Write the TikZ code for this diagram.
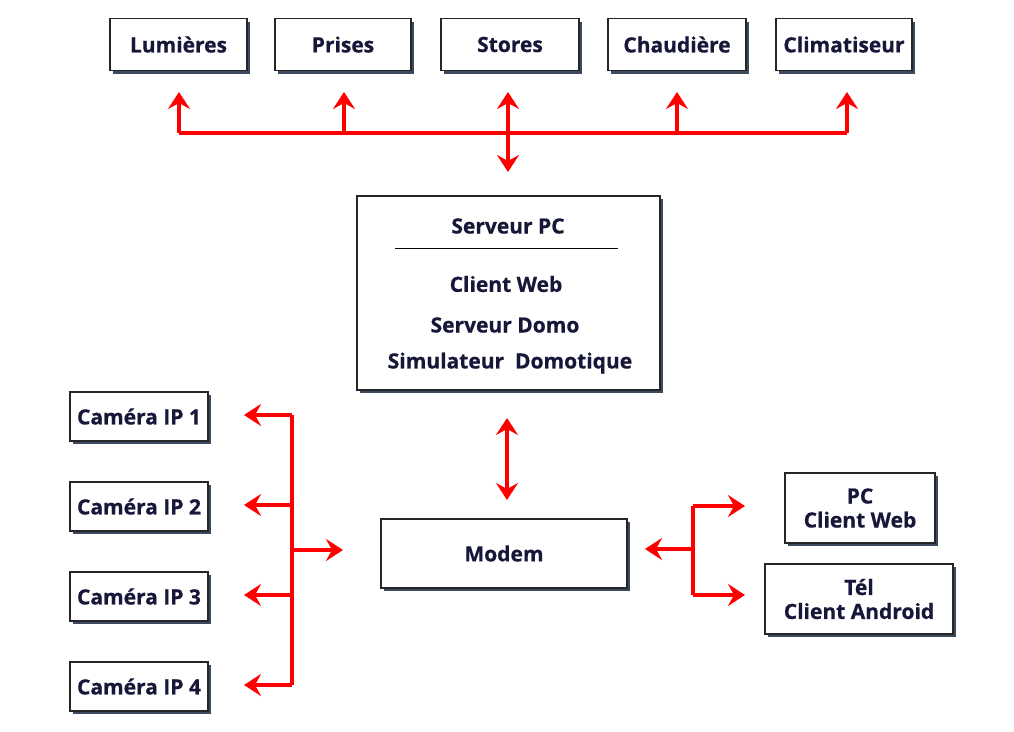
\documentclass[tikz,border=0pt]{standalone}
\usepackage{fontspec}
\setmainfont{Open Sans}
\newfontfamily\hv{Open Sans}[UprightFont=*, BoldFont=*-Bold, BoldFeatures={FakeBold=0.6}]
\usetikzlibrary{arrows.meta,shadows}
\definecolor{txt}{HTML}{17173A}
\definecolor{shd}{HTML}{3C4A60}
\definecolor{arr}{HTML}{FF0000}
\begin{document}
\begin{tikzpicture}[x=1pt,y=-1pt,
  box/.style={draw=black!85,line width=1.2pt,fill=white,text=txt,font=\hv\fontsize{21}{25}\selectfont\bfseries,
    align=center,inner sep=0pt,
    drop shadow={shadow xshift=3pt,shadow yshift=-3pt,fill=shd,opacity=1}},
  red/.style={draw=arr,line width=4pt},
  tip/.style={-{Stealth[length=17pt,width=22pt,inset=6pt]}},
  dtip/.style={{Stealth[length=17pt,width=22pt,inset=6pt]}-{Stealth[length=17pt,width=22pt,inset=6pt]}},
  lbl/.style={text=txt,font=\hv\fontsize{21}{25}\selectfont\bfseries}
]
\useasboundingbox (0,0) rectangle (1014,731);
% top row
\node[box,minimum width=137pt,minimum height=52pt] (lum) at (178.5,44.5) {Lumières};
\node[box,minimum width=136pt,minimum height=52pt] (pri) at (343,44.5) {Prises};
\node[box,minimum width=138pt,minimum height=52pt] (sto) at (510,44.5) {Stores};
\node[box,minimum width=138pt,minimum height=52pt] (cha) at (677,44.5) {Chaudière};
\node[box,minimum width=136pt,minimum height=52pt] (cli) at (844,44.5) {Climatiseur};
% server
\node[box,minimum width=303pt,minimum height=194pt] (srv) at (508.5,293) {};
\node[lbl] (srvt) at (508,226) {Serveur PC};
\draw[black,line width=0.8pt] (395,248) -- (618,248);
\node[lbl] (cw) at (506,284) {Client Web};
\node[lbl] (sd) at (505,325) {Serveur Domo};
\node[lbl] (sim) at (510,363) {Simulateur\ \ Domotique};
% cameras
\node[box,minimum width=138pt,minimum height=49pt] (c1) at (139,416.5) {Caméra IP 1};
\node[box,minimum width=138pt,minimum height=49pt] (c2) at (139,506.5) {Caméra IP 2};
\node[box,minimum width=138pt,minimum height=49pt] (c3) at (139,596.5) {Caméra IP 3};
\node[box,minimum width=138pt,minimum height=49pt] (c4) at (139,686.5) {Caméra IP 4};
% modem
\node[box,minimum width=246pt,minimum height=69pt] (mod) at (504,553.5) {Modem};
% right
\node[box,minimum width=150pt,minimum height=70pt,font=\hv\fontsize{21}{24}\selectfont\bfseries] (pc) at (860,508) {PC\\Client Web};
\node[box,minimum width=188pt,minimum height=70pt,font=\hv\fontsize{21}{24}\selectfont\bfseries] (tel) at (859,599) {Tél\\Client Android};
% top bus
\coordinate (b1) at (179,133); \coordinate (b5) at (847,133);
\coordinate (bc) at (508,133);
\draw[red] (b1) -- (b5);
\draw[red,tip] (b1) -- (179,92);
\draw[red,tip] (344,133) -- (344,92);
\draw[red,tip] (bc) -- (508,92);
\draw[red,tip] (677,133) -- (677,92);
\draw[red,tip] (b5) -- (847,92);
\draw[red,tip] (bc) -- (508,172);
% server-modem
\draw[red,dtip] (507,418) -- (507,500);
% left
\coordinate (l1) at (292,415); \coordinate (l4) at (292,685);
\draw[red] (l1) -- (l4);
\draw[red,tip] (l1) -- (244,415);
\draw[red,tip] (292,505) -- (244,505);
\draw[red,tip] (292,595) -- (244,595);
\draw[red,tip] (l4) -- (244,685);
\draw[red,tip] (292,550) -- (343,550);
% right
\coordinate (r1) at (693,506); \coordinate (r2) at (693,595);
\draw[red] (r1) -- (r2);
\draw[red,tip] (693,549) -- (645,549);
\draw[red,tip] (r1) -- (745,506);
\draw[red,tip] (r2) -- (745,595);
\end{tikzpicture}
\end{document}
